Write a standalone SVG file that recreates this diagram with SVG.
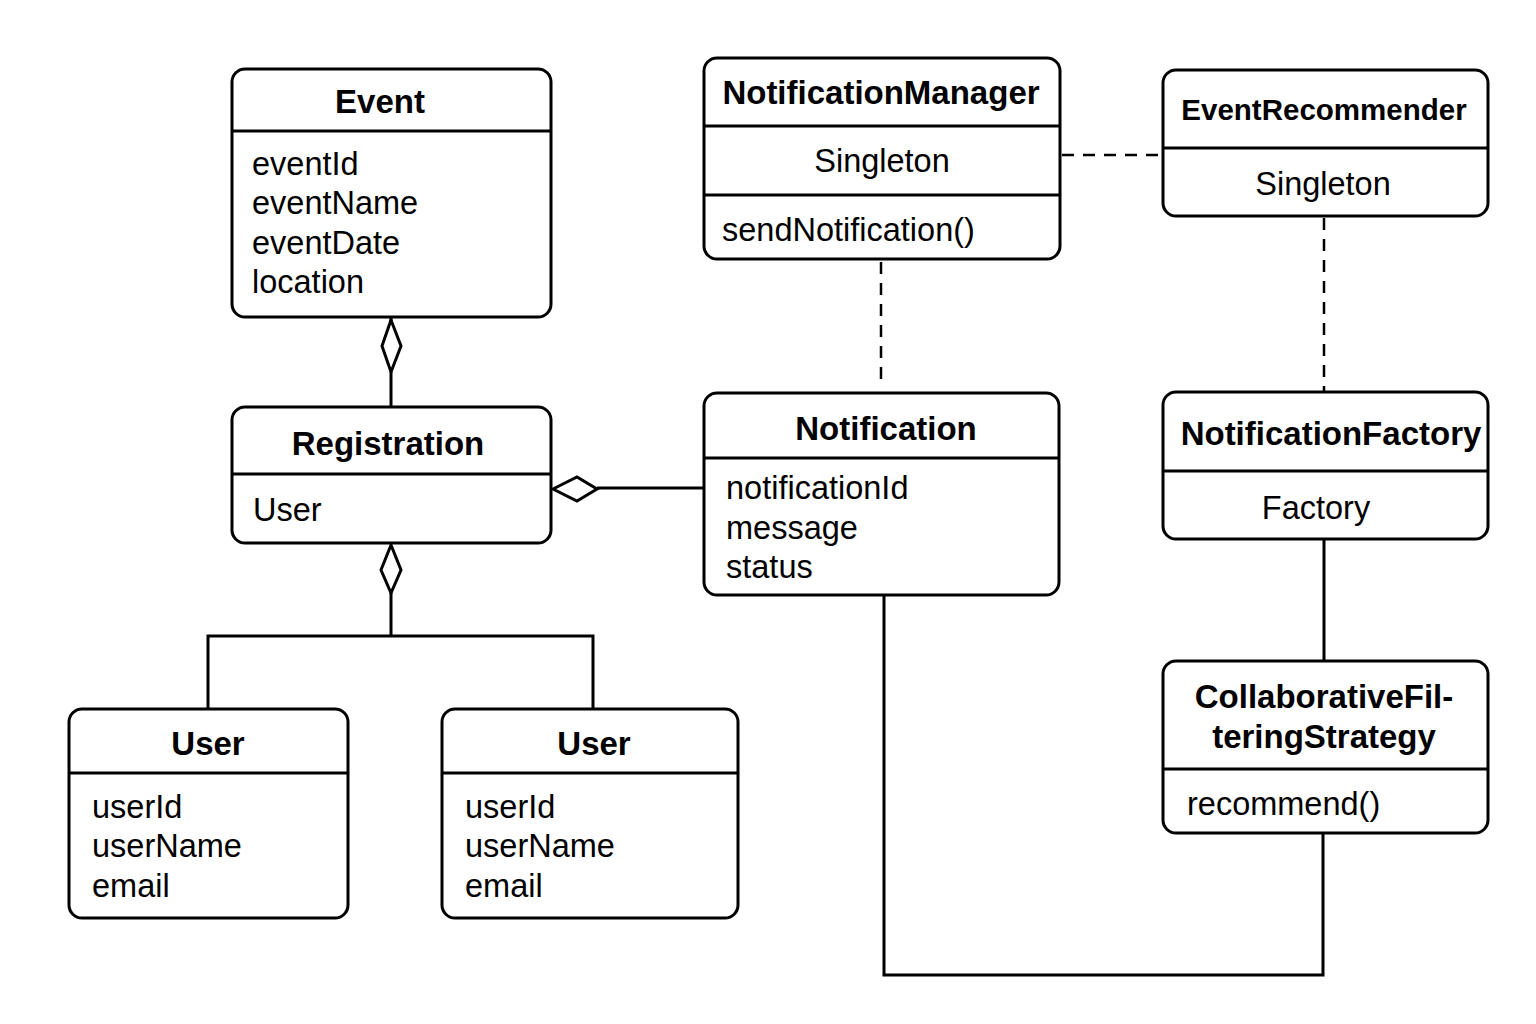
<svg xmlns="http://www.w3.org/2000/svg" width="1536" height="1024" viewBox="0 0 1536 1024">
<style>
.box{fill:#fff;stroke:#000;stroke-width:3}
.div{stroke:#000;stroke-width:3}
.t{font-family:"Liberation Sans",Arial,sans-serif;font-weight:bold;font-size:33px;fill:#000}
.b{font-family:"Liberation Sans",Arial,sans-serif;font-size:32.5px;fill:#000}
.c{text-anchor:middle}
.ln{fill:none;stroke:#000;stroke-width:3}
.dash{fill:none;stroke:#000;stroke-width:2.5;stroke-dasharray:12 9}
.dia{fill:#fff;stroke:#000;stroke-width:3;stroke-linejoin:miter}
</style>
<rect width="1536" height="1024" fill="#fff"/>
<g id="connectors">
<line class="ln" x1="391" y1="317" x2="391" y2="322"/>
<line class="ln" x1="391" y1="372" x2="391" y2="407"/>
<polygon class="dia" points="391,320 382,346 391,372 401,346"/>
<line class="ln" x1="597" y1="488" x2="704" y2="488"/>
<polygon class="dia" points="553,489 577,477 597,489 577,501"/>
<polygon class="dia" points="391,545 381,570 391,593 401,570"/>
<polyline class="ln" points="391,593 391,636"/>
<polyline class="ln" points="208,709 208,636 593,636 593,709"/>
<line class="dash" x1="1062" y1="155" x2="1163" y2="155"/>
<line class="dash" x1="881" y1="262" x2="881" y2="383"/>
<line class="dash" x1="1324" y1="218" x2="1324" y2="392"/>
<line class="ln" x1="1324" y1="539" x2="1324" y2="661"/>
<polyline class="ln" points="884,595 884,975 1323,975 1323,833"/>
</g>
<g id="event">
<rect class="box" x="232" y="69" width="319" height="248" rx="13"/>
<line class="div" x1="232" y1="131" x2="551" y2="131"/>
<text class="t c" x="380" y="113">Event</text>
<text class="b" x="252" y="175">eventId</text>
<text class="b" x="252" y="214">eventName</text>
<text class="b" x="252" y="254">eventDate</text>
<text class="b" x="252" y="293">location</text>
</g>
<g id="registration">
<rect class="box" x="232" y="407" width="319" height="136" rx="13"/>
<line class="div" x1="232" y1="474" x2="551" y2="474"/>
<text class="t c" x="388" y="455">Registration</text>
<text class="b" x="253" y="521">User</text>
</g>
<g id="user1">
<rect class="box" x="69" y="709" width="279" height="209" rx="13"/>
<line class="div" x1="69" y1="773" x2="348" y2="773"/>
<text class="t c" x="208" y="755">User</text>
<text class="b" x="92" y="818">userId</text>
<text class="b" x="92" y="857">userName</text>
<text class="b" x="92" y="897">email</text>
</g>
<g id="user2">
<rect class="box" x="442" y="709" width="296" height="209" rx="13"/>
<line class="div" x1="442" y1="773" x2="738" y2="773"/>
<text class="t c" x="594" y="755">User</text>
<text class="b" x="465" y="818">userId</text>
<text class="b" x="465" y="857">userName</text>
<text class="b" x="465" y="897">email</text>
</g>
<g id="notificationManager">
<rect class="box" x="704" y="58" width="356" height="201" rx="13"/>
<line class="div" x1="704" y1="126" x2="1060" y2="126"/>
<line class="div" x1="704" y1="195" x2="1060" y2="195"/>
<text class="t c" x="881" y="104">NotificationManager</text>
<text class="b c" x="882" y="172">Singleton</text>
<text class="b" x="722" y="241">sendNotification()</text>
</g>
<g id="eventRecommender">
<rect class="box" x="1163" y="70" width="325" height="146" rx="13"/>
<line class="div" x1="1163" y1="148" x2="1488" y2="148"/>
<text class="t c" x="1324" y="120" style="font-size:29.5px">EventRecommender</text>
<text class="b c" x="1323" y="195">Singleton</text>
</g>
<g id="notification">
<rect class="box" x="704" y="393" width="355" height="202" rx="13"/>
<line class="div" x1="704" y1="458" x2="1059" y2="458"/>
<text class="t c" x="886" y="440">Notification</text>
<text class="b" x="726" y="499">notificationId</text>
<text class="b" x="726" y="539">message</text>
<text class="b" x="726" y="578">status</text>
</g>
<g id="notificationFactory">
<rect class="box" x="1163" y="392" width="325" height="147" rx="13"/>
<line class="div" x1="1163" y1="471" x2="1488" y2="471"/>
<text class="t c" x="1331" y="445">NotificationFactory</text>
<text class="b c" x="1316" y="519">Factory</text>
</g>
<g id="collaborativeFilteringStrategy">
<rect class="box" x="1163" y="661" width="325" height="172" rx="13"/>
<line class="div" x1="1163" y1="769" x2="1488" y2="769"/>
<text class="t c" x="1324" y="708">CollaborativeFil-</text>
<text class="t c" x="1324" y="748">teringStrategy</text>
<text class="b" x="1187" y="815">recommend()</text>
</g>
</svg>
